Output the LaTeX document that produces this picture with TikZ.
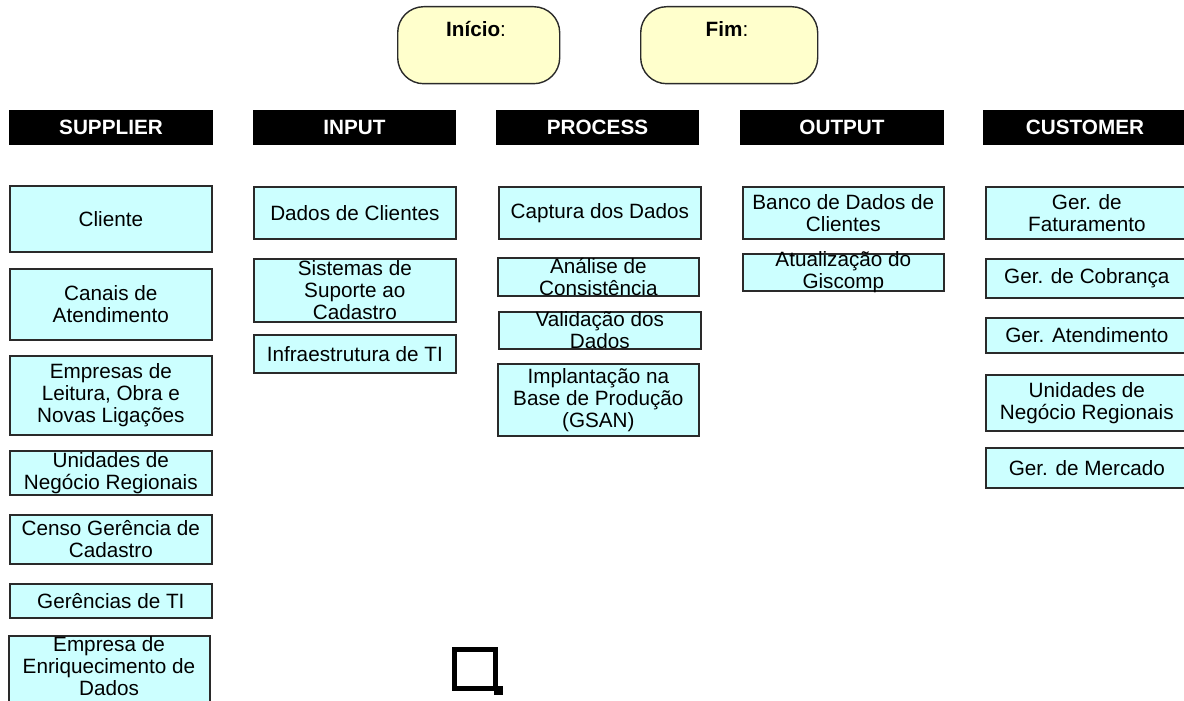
\documentclass[tikz,border=0pt]{standalone}
\usepackage{fontspec}
\setmainfont{Liberation Sans}
\definecolor{boxcyan}{HTML}{CCFFFF}
\definecolor{boxyellow}{HTML}{FFFFCC}
\definecolor{edge}{HTML}{2A2A2A}
\tikzset{
  cbox/.style={draw=edge, line width=1.7pt, fill=boxcyan, rectangle, inner sep=0pt, anchor=north west},
  hbox/.style={draw=black, line width=1pt, fill=black, rectangle, inner sep=0pt, anchor=north west},
  ybox/.style={draw=edge, line width=1.4pt, fill=boxyellow, rectangle, rounded corners=26pt, inner sep=0pt, anchor=north west},
  txt/.style={align=center, inner sep=0pt, font=\fontsize{20.7}{22}\selectfont, text=black},
  htxt/.style={align=center, inner sep=0pt, font=\fontsize{20.7}{22}\selectfont\bfseries, text=white},
}
% name, x1, y1, x2, y2, text
\newcommand\mybox[6]{%
  \node[cbox, minimum width=#4pt-#2pt, minimum height=#5pt-#3pt] (#1) at (#2,#3) {};
  \node[txt] (#1t) at (#1) {#6};}
\newcommand\myhead[5]{%
  \node[hbox, minimum width=#4pt-#2pt, minimum height=34pt] (#1) at (#2,#3) {};
  \node[htxt] (#1t) at (#1) {#5};}
\begin{document}
\begin{tikzpicture}[x=1pt,y=-1pt]
\useasboundingbox (0,0) rectangle (1184,701);
% Start / end
\node[ybox, minimum width=162pt, minimum height=77pt] (inicio) at (397,6) {};
\node[txt, anchor=base] (iniciot) at (476,37) {\textbf{Início}:};
\node[ybox, minimum width=177pt, minimum height=77pt] (fim) at (640,6) {};
\node[txt, anchor=base] (fimt) at (727,37) {\textbf{Fim}:};
% Headers
\myhead{hs}{9}{110}{212}{SUPPLIER}
\myhead{hi}{253}{110}{455}{INPUT}
\myhead{hp}{496}{110}{698}{PROCESS}
\myhead{ho}{740}{110}{943}{OUTPUT}
\myhead{hc}{983}{110}{1186}{CUSTOMER}
% Supplier
\mybox{s1}{9}{185}{211}{251}{Cliente}
\mybox{s2}{9}{268}{211}{339}{Canais de\\Atendimento}
\mybox{s3}{9}{355}{211}{434}{Empresas de\\Leitura, Obra e\\Novas Ligações}
\mybox{s4}{9}{450}{211}{494}{Unidades de\\Negócio Regionais}
\mybox{s5}{9}{514}{211}{563}{Censo Gerência de\\Cadastro}
\mybox{s6}{9}{583}{211}{617}{Gerências de TI}
\node[cbox, minimum width=201pt, minimum height=80pt] (s7) at (8,635) {};
\node[txt] (s7t) at (109,666.5) {Empresa de\\Enriquecimento de\\Dados};
% Input
\mybox{i1}{253}{186}{455}{238}{Dados de Clientes}
\mybox{i2}{253}{258}{455}{321}{Sistemas de\\Suporte ao\\Cadastro}
\mybox{i3}{253}{334}{455}{372}{Infraestrutura de TI}
% Process
\mybox{p1}{498}{186}{700}{238}{Captura dos Dados}
\mybox{p2}{497}{257}{698}{295}{Análise de\\Consistência}
\mybox{p3}{498}{311}{700}{348}{Validação dos\\Dados}
\mybox{p4}{497}{363}{698}{435}{Implantação na\\Base de Produção\\(GSAN)}
% Output
\mybox{o1}{742}{186}{943}{238}{Banco de Dados de\\Clientes}
\mybox{o2}{742}{253}{943}{290}{Atualização do\\Giscomp}
% Customer
\mybox{c1}{985}{186}{1187}{238}{Ger. de\\Faturamento}
\mybox{c2}{985}{258}{1187}{297}{Ger. de Cobrança}
\mybox{c3}{985}{317}{1187}{352}{Ger. Atendimento}
\mybox{c4}{985}{374}{1187}{430}{Unidades de\\Negócio Regionais}
\mybox{c5}{985}{447}{1187}{487}{Ger. de Mercado}
% Stray square
\draw[line width=5pt] (454.5,649.5) rectangle (495.5,688.5);
\fill (494,686) rectangle (503,695);
\end{tikzpicture}
\end{document}
